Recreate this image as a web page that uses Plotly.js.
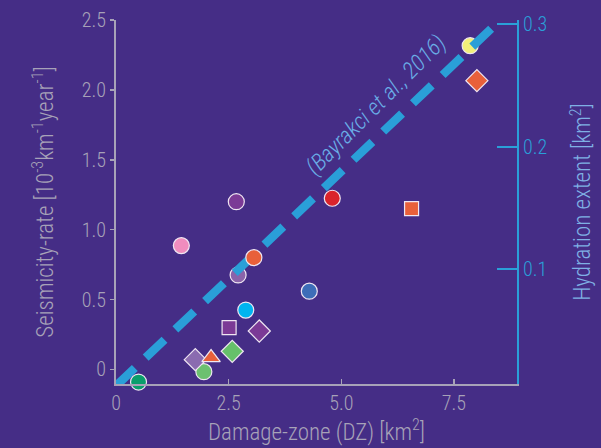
<!DOCTYPE html>
<html>
<head>
<meta charset="utf-8">
<script src="https://cdn.plot.ly/plotly-3.0.1.min.js"></script>
<style>html,body{margin:0;padding:0;background:#452d86;}#chart{width:601px;height:448px;}</style>
</head>
<body>
<div id="chart"></div>
<script>
// Markers drawn beneath the dashed trend line
const underX = [2.71, 7.86];
const underY = [0.676, 2.316];
const underColor = ['#8a63aa', '#f3ef7a'];
const underSymbol = ['circle', 'circle'];

// Markers drawn above the dashed trend line
const overX = [0.50, 1.95, 1.76, 2.11, 2.58, 2.51, 3.18, 2.88, 3.06, 4.29, 1.45, 2.67, 4.80, 6.56, 8.01];
const overY = [-0.09, -0.016, 0.07, 0.085, 0.13, 0.30, 0.275, 0.425, 0.80, 0.56, 0.886, 1.20, 1.225, 1.15, 2.066];
const overColor = ['#0a9e6b', '#6cc070', '#8a6bb0', '#e8603a', '#66c06a', '#7b3a96', '#7b3a96', '#00b4f0',
                   '#e8603a', '#3d6db8', '#f08cbe', '#7b3a96', '#d9232b', '#e8603a', '#e8603a'];
const overSymbol = ['circle', 'circle', 'diamond', 'triangle-up', 'diamond', 'square', 'diamond', 'circle',
                    'circle', 'circle', 'circle', 'circle', 'circle', 'square', 'diamond'];

// Trend line (Bayrakci et al., 2016)
const trendX = [0, 8.53];
const trendY = [-0.118, 2.5];

// Tick labels
const xTickVals = [0, 2.5, 5, 7.5];
const xTickText = ['0', '2.5', '5.0', '7.5'];
const yTickVals = [0, 0.5, 1, 1.5, 2, 2.5];
const yTickText = ['0', '0.5', '1.0', '1.5', '2.0', '2.5'];
const y2TickVals = [0.1, 0.2, 0.3];
const y2TickText = ['0.1', '0.2', '0.3'];

const FONT = 'Roboto Condensed, sans-serif';
const GRAY = '#a7a2b8';
const BLUE = '#2a9fd8';

function sizes(symbols) {
  return symbols.map(s => s === 'circle' ? 16 : s === 'square' ? 14 : s === 'diamond' ? 17 : 16);
}

const traces = [
  {
    x: underX, y: underY, type: 'scatter', mode: 'markers', cliponaxis: false,
    marker: {color: underColor, symbol: underSymbol, size: sizes(underSymbol), opacity: 1, line: {color: '#efe6f2', width: 1.2}},
    hoverinfo: 'skip', showlegend: false
  },
  {
    x: trendX, y: trendY, type: 'scatter', mode: 'lines',
    line: {color: BLUE, width: 8.5, dash: '26px,15px'},
    hoverinfo: 'skip', showlegend: false
  },
  {
    x: overX, y: overY, type: 'scatter', mode: 'markers', cliponaxis: false,
    marker: {color: overColor, symbol: overSymbol, size: sizes(overSymbol), opacity: 1, line: {color: '#efe6f2', width: 1.2}},
    hoverinfo: 'skip', showlegend: false
  },
  {
    x: [null], y: [null], yaxis: 'y2', type: 'scatter', mode: 'markers', showlegend: false, hoverinfo: 'skip'
  }
];

const layout = {
  width: 601, height: 448,
  paper_bgcolor: '#452d86', plot_bgcolor: '#452d86',
  margin: {l: 116, r: 84, t: 20, b: 64},
  font: {family: FONT, color: GRAY, size: 20, weight: 300},
  showlegend: false,
  xaxis: {
    range: [0, 8.9], showgrid: false, zeroline: false,
    showline: true, linecolor: GRAY, linewidth: 2,
    ticks: 'inside', ticklen: 5, tickcolor: GRAY, tickwidth: 1.5,
    tickvals: xTickVals, ticktext: xTickText,
    tickfont: {family: FONT, size: 20, color: GRAY, weight: 300},
    title: {text: 'Damage-zone (DZ) [km<sup>2</sup>]', font: {family: FONT, size: 23, color: GRAY, weight: 300}, standoff: 6},
    automargin: false
  },
  yaxis: {
    range: [-0.104, 2.5], showgrid: false, zeroline: false,
    showline: true, linecolor: GRAY, linewidth: 2,
    ticks: 'outside', ticklen: 4, tickcolor: GRAY, tickwidth: 1.5,
    tickvals: yTickVals, ticktext: yTickText,
    tickfont: {family: FONT, size: 20, color: GRAY, weight: 300},
    title: {text: 'Seismicity-rate [10<sup>-3</sup>km<sup>-1</sup>year<sup>-1</sup>]', font: {family: FONT, size: 23, color: GRAY, weight: 300}, standoff: 22},
    automargin: false
  },
  yaxis2: {
    overlaying: 'y', side: 'right', range: [0.0064, 0.3033],
    showgrid: false, zeroline: false,
    showline: true, linecolor: BLUE, linewidth: 2,
    ticks: 'inside', ticklen: 20, tickcolor: BLUE, tickwidth: 2,
    tickvals: y2TickVals, ticktext: y2TickText,
    tickfont: {family: FONT, size: 20, color: BLUE, weight: 300},
    title: {text: 'Hydration extent [km<sup>2</sup>]', font: {family: FONT, size: 23, color: '#7fb0e4', weight: 300}, standoff: 28},
    automargin: false
  },
  annotations: [{
    text: '<i>(Bayrakci et al., 2016)</i>',
    x: 5.76, y: 1.89, xref: 'x', yref: 'y',
    showarrow: false, textangle: -45,
    font: {family: FONT, size: 23, color: '#6aaee6', weight: 300}
  }]
};

Plotly.newPlot('chart', traces, layout, {displayModeBar: false, staticPlot: true});
</script>
</body>
</html>
